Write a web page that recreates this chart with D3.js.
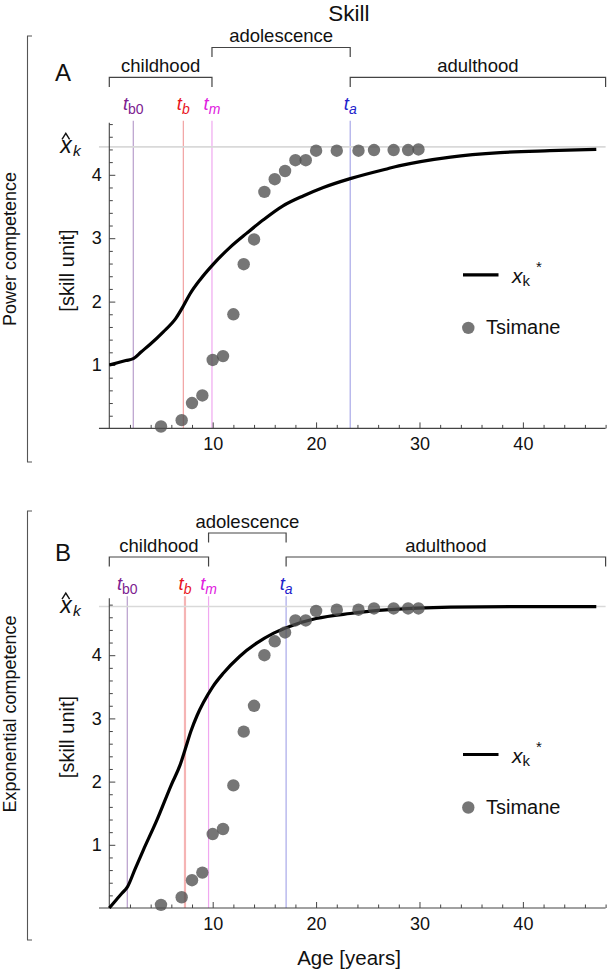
<!DOCTYPE html>
<html><head><meta charset="utf-8">
<script src="https://cdn.jsdelivr.net/npm/d3@7"></script>
<style>
body{margin:0;background:#fff}
svg{display:block;font-family:"Liberation Sans",Arial,Helvetica,sans-serif}
</style>
</head><body>
<svg id="c" width="609" height="972"></svg>
<script>
// ---------- data ----------
const tsimaneAges  = [5, 7, 8, 9, 10, 11, 12, 13, 14, 15, 16, 17, 18, 19, 20, 22, 24.1, 25.6, 27.5, 28.9, 29.9];
const tsimanePower = [0.03, 0.13, 0.40, 0.52, 1.08, 1.14, 1.80, 2.59, 2.98, 3.73, 3.93, 4.06, 4.23, 4.23, 4.38, 4.38, 4.38, 4.39, 4.39, 4.39, 4.40];
const tsimaneExp   = [0.05, 0.17, 0.44, 0.56, 1.17, 1.25, 1.94, 2.79, 3.20, 4.00, 4.22, 4.36, 4.55, 4.55, 4.70, 4.72, 4.72, 4.74, 4.74, 4.74, 4.74];

const powerCurveAges = [0, 0.8, 1.6, 2.32, 3.1, 3.9, 5.2, 6.45, 7.16, 7.8, 8.8, 10, 11.7, 13.3, 14.9, 16.8, 18.8, 20.7, 23.3, 27, 28, 33, 37.8, 42.6, 47.1];
const powerCurve     = [1.00, 1.035, 1.07, 1.10, 1.21, 1.32, 1.52, 1.74, 1.93, 2.12, 2.35, 2.58, 2.86, 3.08, 3.29, 3.51, 3.67, 3.80, 3.94, 4.10, 4.14, 4.28, 4.35, 4.38, 4.40];

const expCurveAges = [0, 0.6, 1.2, 1.74, 2.5, 3.3, 4.6, 6.0, 6.84, 7.32, 7.9, 8.5, 9.1, 10, 11, 12.6, 14.25, 15.9, 17.5, 20, 23.3, 27.1, 33, 40, 47.1];
const expCurve     = [0, 0.115, 0.23, 0.33, 0.62, 0.92, 1.39, 1.95, 2.26, 2.50, 2.80, 3.05, 3.25, 3.50, 3.71, 3.98, 4.19, 4.35, 4.46, 4.58, 4.66, 4.72, 4.76, 4.77, 4.77];

const markerNames  = ["b0", "b", "m", "a"];
const powerMarkers = [2.32, 7.16, 9.93, 23.3];
const expMarkers   = [1.74, 7.32, 9.6, 17.1];
const powerXhat = 4.44;
const expXhat   = 4.77;

const xTicks = [10, 20, 30, 40];
const yTicks = [1, 2, 3, 4];
const stageNames = ["childhood", "adolescence", "adulthood"];
const legendNames = ["Tsimane"];

// ---------- styles ----------
const markerLineColors  = ["#b89ecc", "#f2a2a2", "#f0a8f0", "#a9a9e8"];
const markerLabelColors = ["#7d2190", "#e8141e", "#e020e0", "#2222cc"];
const axisColor = "#444";

const svg = d3.select("#c");
svg.append("rect").attr("width", 609).attr("height", 972).attr("fill", "#fff");

const x = d3.scaleLinear().domain([0, 48]).range([109.3, 605.6]);

svg.append("text").attr("x", 349).attr("y", 21).attr("text-anchor", "middle")
  .attr("font-size", 22.5).attr("fill", "#111").text("Skill");

function panel(cfg) {
  const A = cfg.axisY;
  const y = d3.scaleLinear().domain([0, cfg.yMax]).range([A, A - cfg.yMax * cfg.ppu]);
  const g = svg.append("g");

  // left outer bracket
  g.append("path").attr("d", `M32,${cfg.brTop} H27.5 V${cfg.brBot} H32`)
    .attr("fill", "none").attr("stroke", "#555").attr("stroke-width", 1.1);

  // panel letter
  g.append("text").attr("x", 63).attr("y", A - 347.5).attr("text-anchor", "middle")
    .attr("font-size", 24).attr("fill", "#111").text(cfg.letter);

  // y labels
  g.append("text").attr("transform", `translate(16,${cfg.ylabY}) rotate(-90)`)
    .attr("text-anchor", "middle").attr("font-size", 18).attr("fill", "#111").text(cfg.ylabel);
  g.append("text").attr("transform", `translate(74,${cfg.unitY}) rotate(-90)`)
    .attr("text-anchor", "middle").attr("font-size", 20).attr("fill", "#111").text("[skill unit]");

  // brackets of stages
  const bounds = [[0, cfg.markers[2]], [cfg.markers[2], cfg.markers[3]], [cfg.markers[3], 48]];
  bounds.forEach((b, i) => {
    const ly = i === 1 ? cfg.adolY : A - 351;
    g.append("path").attr("d", `M${x(b[0])},${ly + 9.5} V${ly} H${x(b[1])} V${ly + 9.5}`)
      .attr("fill", "none").attr("stroke", "#444").attr("stroke-width", 1.2);
    g.append("text").attr("x", (x(b[0]) + x(b[1])) / 2).attr("y", ly - 5.5)
      .attr("text-anchor", "middle").attr("font-size", 18.5).attr("fill", "#111").text(stageNames[i]);
  });

  // marker lines + labels
  cfg.markers.forEach((m, i) => {
    const wide = i === 1 && cfg.letter === "B";
    g.append("line").attr("x1", x(m)).attr("x2", x(m)).attr("y1", y(cfg.yMax) - 2).attr("y2", A)
      .attr("stroke", wide ? "#f5b4b4" : markerLineColors[i]).attr("stroke-width", wide ? 2.2 : 1.2);
    const t = g.append("text").attr("x", x(m)).attr("y", A - 318).attr("text-anchor", "middle")
      .attr("font-size", 18.5).attr("fill", markerLabelColors[i]);
    t.append("tspan").attr("font-style", "italic").text("t");
    t.append("tspan").attr("font-size", 14).attr("dy", 3.5)
      .attr("font-style", i === 0 ? "normal" : "italic").text(markerNames[i]);
  });

  // xhat gray line + label
  const gy = y(cfg.xhat);
  g.append("line").attr("x1", x(-1)).attr("x2", x(48)).attr("y1", gy).attr("y2", gy)
    .attr("stroke", "#d9d9d9").attr("stroke-width", 1.6);
  g.append("text").attr("x", 66).attr("y", gy + 6.5).attr("text-anchor", "middle")
    .attr("font-size", 23).attr("font-style", "italic").attr("fill", "#111").text("x");
  g.append("text").attr("x", 73).attr("y", gy + 9.5).attr("font-size", 15.5)
    .attr("font-style", "italic").attr("fill", "#111").text("k");
  g.append("path").attr("d", `M62,${gy - 7.5} L65.8,${gy - 13.5} L69.6,${gy - 7.5}`)
    .attr("fill", "none").attr("stroke", "#111").attr("stroke-width", 1.4);

  // axes (minor and major ticks in separate groups)
  const minorX = x.ticks(24).filter(v => v > 0 && v % 10 !== 0);
  g.append("g").attr("transform", `translate(0,${A})`)
    .call(d3.axisBottom(x).tickValues(minorX).tickSize(-3.5).tickFormat(""));
  g.append("g").attr("transform", `translate(0,${A})`)
    .call(d3.axisBottom(x).tickValues(xTicks).tickSize(-6).tickPadding(9).tickFormat(d3.format("d")));
  const minorY = d3.range(1, Math.floor(cfg.yMax * 5) + 1).map(k => k / 5).filter(v => Math.abs(v - Math.round(v)) > 1e-6);
  g.append("g").attr("transform", `translate(${x(0)},0)`)
    .call(d3.axisLeft(y).tickValues(minorY).tickSize(-3.5).tickFormat(""));
  g.append("g").attr("transform", `translate(${x(0)},0)`)
    .call(d3.axisLeft(y).tickValues(yTicks).tickSize(-6).tickPadding(7.5).tickFormat(d3.format("d")));
  g.selectAll(".domain").remove();
  g.selectAll(".tick line").attr("stroke", axisColor).attr("stroke-width", 1);
  g.selectAll(".tick text").attr("font-size", 18).attr("fill", "#111").attr("font-family", null);
  g.append("line").attr("x1", x(-1)).attr("x2", x(48)).attr("y1", A).attr("y2", A)
    .attr("stroke", axisColor).attr("stroke-width", 1.1);
  g.append("line").attr("x1", x(0)).attr("x2", x(0)).attr("y1", A).attr("y2", y(cfg.yMax))
    .attr("stroke", axisColor).attr("stroke-width", 1.1);

  // curve
  const line = d3.line().x(d => x(d[0])).y(d => y(d[1])).curve(d3.curveMonotoneX);
  g.append("path").datum(cfg.curveAges.map((a, i) => [a, cfg.curve[i]]))
    .attr("d", line).attr("fill", "none").attr("stroke", "#000").attr("stroke-width", 3.2)
    .attr("stroke-linejoin", "round");

  // points
  g.selectAll("circle.pt").data(tsimaneAges.map((a, i) => [a, cfg.points[i]])).join("circle")
    .attr("class", "pt").attr("cx", d => x(d[0])).attr("cy", d => y(d[1])).attr("r", 6.2)
    .attr("fill", "#505050").attr("fill-opacity", 0.78);

  // legend
  const ly = A - 153.5;
  g.append("line").attr("x1", 463).attr("x2", 498.5).attr("y1", ly).attr("y2", ly)
    .attr("stroke", "#000").attr("stroke-width", 3.2);
  const lt = g.append("text").attr("x", 512).attr("y", ly + 8).attr("font-size", 21).attr("fill", "#111");
  lt.append("tspan").attr("font-style", "italic").text("x");
  lt.append("tspan").attr("font-size", 15).attr("dy", 3).text("k");
  lt.append("tspan").attr("font-size", 15).attr("dy", -14).attr("dx", 6).text("*");
  g.append("circle").attr("cx", 468.3).attr("cy", A - 100.5).attr("r", 6.2)
    .attr("fill", "#505050").attr("fill-opacity", 0.78);
  g.append("text").attr("x", 486).attr("y", A - 94).attr("font-size", 20).attr("fill", "#111").text(legendNames[0]);
}

panel({letter: "A", axisY: 428.4, yMax: 4.82, ppu: 63.4, adolY: 47.5,
  brTop: 36, brBot: 462, ylabY: 249, unitY: 270.5, ylabel: "Power competence",
  markers: powerMarkers, xhat: powerXhat, curveAges: powerCurveAges, curve: powerCurve, points: tsimanePower});

panel({letter: "B", axisY: 908, yMax: 4.9, ppu: 63.2, adolY: 533,
  brTop: 511, brBot: 940, ylabY: 714, unitY: 737, ylabel: "Exponential competence",
  markers: expMarkers, xhat: expXhat, curveAges: expCurveAges, curve: expCurve, points: tsimaneExp});

svg.append("text").attr("x", 349).attr("y", 965).attr("text-anchor", "middle")
  .attr("font-size", 20.5).attr("fill", "#111").text("Age [years]");
</script>
</body></html>
